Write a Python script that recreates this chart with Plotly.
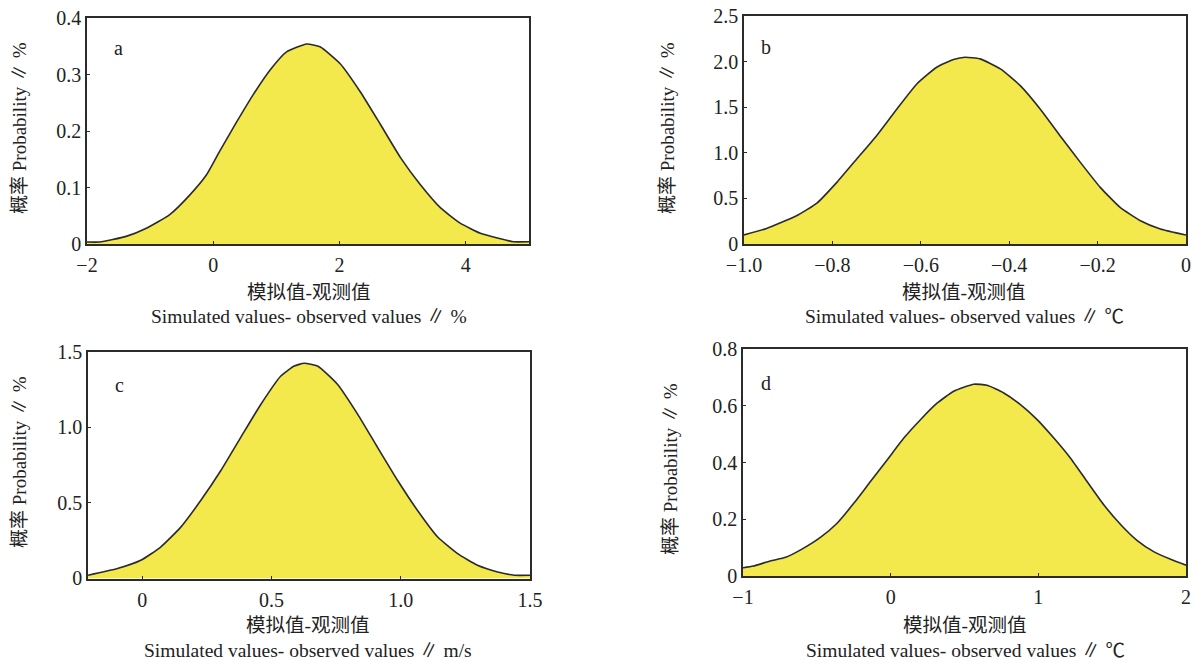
import plotly.graph_objects as go

# Panel a: simulated - observed (%)
a_x = [-2.0, -1.80, -1.38, -1.06, -0.69, -0.37, -0.11, 0.10, 0.37, 0.63, 0.90, 1.16, 1.48,
       1.69, 2.01, 2.33, 2.65, 2.97, 3.28, 3.60, 3.91, 4.23, 4.52, 4.75, 5.0]
a_y = [0.0035, 0.0035, 0.0135, 0.028, 0.052, 0.087, 0.122, 0.164, 0.216, 0.264, 0.308, 0.34, 0.354,
       0.349, 0.319, 0.269, 0.211, 0.152, 0.105, 0.064, 0.037, 0.019, 0.010, 0.004, 0.004]

# Panel b: simulated - observed (°C)
b_x = [-1.0, -0.949, -0.881, -0.835, -0.79, -0.745, -0.7, -0.654, -0.609, -0.564, -0.526, -0.5,
       -0.466, -0.42, -0.375, -0.33, -0.285, -0.239, -0.194, -0.149, -0.103, -0.058, 0.0]
b_y = [0.10, 0.171, 0.31, 0.449, 0.676, 0.932, 1.188, 1.481, 1.755, 1.938, 2.022, 2.048,
       2.03, 1.92, 1.737, 1.481, 1.188, 0.895, 0.621, 0.401, 0.255, 0.164, 0.098]

# Panel c: simulated - observed (m/s)
c_x = [-0.21, -0.096, -0.006, 0.071, 0.149, 0.226, 0.304, 0.381, 0.459, 0.536, 0.588, 0.626,
       0.678, 0.755, 0.833, 0.91, 0.988, 1.065, 1.143, 1.22, 1.297, 1.375, 1.44, 1.5]
c_y = [0.02, 0.064, 0.119, 0.207, 0.339, 0.515, 0.714, 0.934, 1.154, 1.341, 1.407, 1.425,
       1.407, 1.286, 1.088, 0.868, 0.648, 0.449, 0.273, 0.163, 0.086, 0.042, 0.02, 0.02]

# Panel d: simulated - observed (°C)
d_x = [-1.0, -0.93, -0.815, -0.71, -0.61, -0.476, -0.363, -0.25, -0.137, -0.024, 0.089, 0.2,
       0.314, 0.427, 0.563, 0.653, 0.766, 0.879, 0.992, 1.105, 1.218, 1.33, 1.443, 1.56,
       1.67, 1.784, 1.9, 2.0]
d_y = [0.029, 0.035, 0.053, 0.066, 0.092, 0.136, 0.186, 0.256, 0.333, 0.409, 0.486, 0.55,
       0.609, 0.651, 0.676, 0.672, 0.645, 0.604, 0.551, 0.486, 0.415, 0.333, 0.251, 0.18,
       0.125, 0.085, 0.058, 0.038]

panel_labels = ["a", "b", "c", "d"]
x_units = ["%", "℃", "m/s", "℃"]
x_ranges = [[-2, 5], [-1.0, 0.0], [-0.21, 1.5], [-1, 2]]
y_ranges = [[0, 0.4], [0, 2.5], [-0.005, 1.5], [0, 0.8]]
x_tickvals = [[-2, 0, 2, 4], [-1.0, -0.8, -0.6, -0.4, -0.2, 0], [0, 0.5, 1.0, 1.5], [-1, 0, 1, 2]]
x_ticktext = [["−2", "0", "2", "4"], ["−1.0", "−0.8", "−0.6", "−0.4", "−0.2", "0"],
              ["0", "0.5", "1.0", "1.5"], ["−1", "0", "1", "2"]]
y_tickvals = [[0, 0.1, 0.2, 0.3, 0.4], [0, 0.5, 1.0, 1.5, 2.0, 2.5], [0, 0.5, 1.0, 1.5],
              [0, 0.2, 0.4, 0.6, 0.8]]
y_ticktext = [["0", "0.1", "0.2", "0.3", "0.4"], ["0", "0.5", "1.0", "1.5", "2.0", "2.5"],
              ["0", "0.5", "1.0", "1.5"], ["0", "0.2", "0.4", "0.6", "0.8"]]

W, H = 1200, 663
# plot areas in pixels: (left, right, top, bottom)
boxes = [(87, 529, 18, 244), (744, 1186, 16, 244), (88, 530, 352, 579), (743, 1186, 349, 576)]
ytitle_pos = [(20, 128), (668, 128), (19, 462), (670, 469)]
xtitle_cx = [309, 964, 308, 965]
xtitle_cn_y = [292, 292, 625, 625]
xtitle_en_y = [316, 316, 650, 650]
label_pos = [(118, 48), (766, 47), (119, 385), (766, 383)]

FONT = "Liberation Serif, Noto Sans CJK SC, serif"
LINE = "#2b2b2b"
FILL = "#F3E84C"
TXT = "#222"

fig = go.Figure()
series = [(a_x, a_y), (b_x, b_y), (c_x, c_y), (d_x, d_y)]
annotations = []
for i, (xs, ys) in enumerate(series):
    n = "" if i == 0 else str(i + 1)
    fig.add_trace(go.Scatter(
        x=xs, y=ys, mode="lines", fill="tozeroy", fillcolor=FILL,
        line=dict(color=LINE, width=1.6, shape="spline", smoothing=0.5),
        xaxis="x" + n, yaxis="y" + n, showlegend=False, hoverinfo="skip"))
    l, r, t, b = boxes[i]
    common = dict(showline=True, linecolor=LINE, linewidth=1.6, mirror=True,
                  showgrid=False, zeroline=False, ticks="inside", ticklen=3,
                  tickcolor=LINE, automargin=False,
                  tickfont=dict(family=FONT, size=20, color=TXT))
    fig.update_layout({
        "xaxis" + n: dict(domain=[l / W, r / W], range=x_ranges[i], anchor="y" + n,
                          tickvals=x_tickvals[i], ticktext=x_ticktext[i],
                          ticklabelstandoff=2, **common),
        "yaxis" + n: dict(domain=[1 - b / H, 1 - t / H], range=y_ranges[i], anchor="x" + n,
                          tickvals=y_tickvals[i], ticktext=y_ticktext[i], **common),
    })
    yx, yy = ytitle_pos[i]
    annotations.append(dict(x=yx / W, y=1 - yy / H, xref="paper", yref="paper",
                            text="概率 Probability ∥ %", textangle=-90, showarrow=False,
                            font=dict(family=FONT, size=19, color=TXT),
                            xanchor="center", yanchor="middle"))
    annotations.append(dict(x=xtitle_cx[i] / W, y=1 - xtitle_cn_y[i] / H, xref="paper", yref="paper",
                            text="模拟值-观测值", showarrow=False,
                            font=dict(family=FONT, size=19.5, color=TXT),
                            xanchor="center", yanchor="middle"))
    annotations.append(dict(x=xtitle_cx[i] / W, y=1 - xtitle_en_y[i] / H, xref="paper", yref="paper",
                            text="Simulated values- observed values ∥ " + x_units[i], showarrow=False,
                            font=dict(family=FONT, size=19.5, color=TXT),
                            xanchor="center", yanchor="middle"))
    lx, ly = label_pos[i]
    annotations.append(dict(x=lx / W, y=1 - ly / H, xref="paper", yref="paper",
                            text=panel_labels[i], showarrow=False,
                            font=dict(family=FONT, size=20, color=TXT),
                            xanchor="center", yanchor="middle"))

fig.update_layout(width=W, height=H, margin=dict(l=0, r=0, t=0, b=0),
                  paper_bgcolor="white", plot_bgcolor="white",
                  annotations=annotations)
fig.write_html("out.html", config={"displayModeBar": False},
               post_script="document.body.style.margin='0px';document.body.style.overflow='hidden';")
